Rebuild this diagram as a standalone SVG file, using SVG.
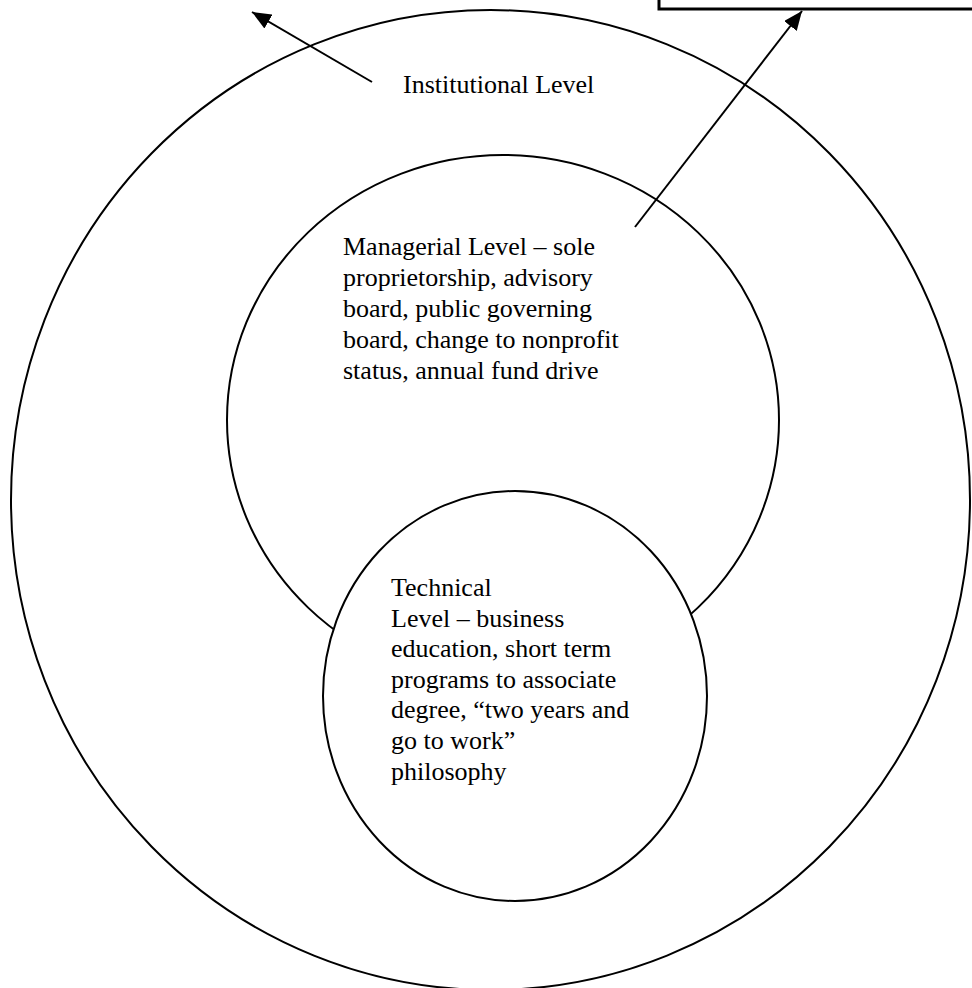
<svg xmlns="http://www.w3.org/2000/svg" width="972" height="988" viewBox="0 0 972 988">
<defs>
<style>
.ring{fill:#fff;stroke:#000;stroke-width:2}
.lbl{font-family:"Liberation Serif","Times New Roman",serif;font-size:26px;fill:#000}
.conn{stroke:#000;stroke-width:2;fill:none}
</style>
<marker id="arr" markerUnits="userSpaceOnUse" markerWidth="20" markerHeight="16" refX="19" refY="8" orient="auto">
<path d="M0,0 L19,8 L0,16 Z" fill="#000"/>
</marker>
</defs>
<rect width="972" height="988" fill="#fff"/>
<g id="box">
<rect x="659" y="-20" width="340" height="29" fill="#fff" stroke="#000" stroke-width="3"/>
</g>
<g id="institutional">
<ellipse class="ring" cx="490.5" cy="500" rx="479.5" ry="490"/>
<text class="lbl" x="403" y="93">Institutional Level</text>
</g>
<g id="managerial">
<ellipse class="ring" cx="503" cy="420" rx="276" ry="265"/>
<text class="lbl" x="343"><tspan x="343" y="255">Managerial Level – sole</tspan><tspan x="343" y="286">proprietorship, advisory</tspan><tspan x="343" y="317">board, public governing</tspan><tspan x="343" y="348">board, change to nonprofit</tspan><tspan x="343" y="379">status, annual fund drive</tspan></text>
</g>
<g id="technical">
<ellipse class="ring" cx="515" cy="696" rx="192" ry="205"/>
<text class="lbl"><tspan x="391" y="596">Technical</tspan><tspan x="391" y="627">Level – business</tspan><tspan x="391" y="657">education, short term</tspan><tspan x="391" y="688">programs to associate</tspan><tspan x="391" y="718">degree, “two years and</tspan><tspan x="391" y="749">go to work”</tspan><tspan x="391" y="780">philosophy</tspan></text>
</g>
<g id="connectors">
<line class="conn" x1="372" y1="82" x2="252" y2="12" marker-end="url(#arr)"/>
<line class="conn" x1="635" y1="227" x2="802" y2="11" marker-end="url(#arr)"/>
</g>
</svg>
